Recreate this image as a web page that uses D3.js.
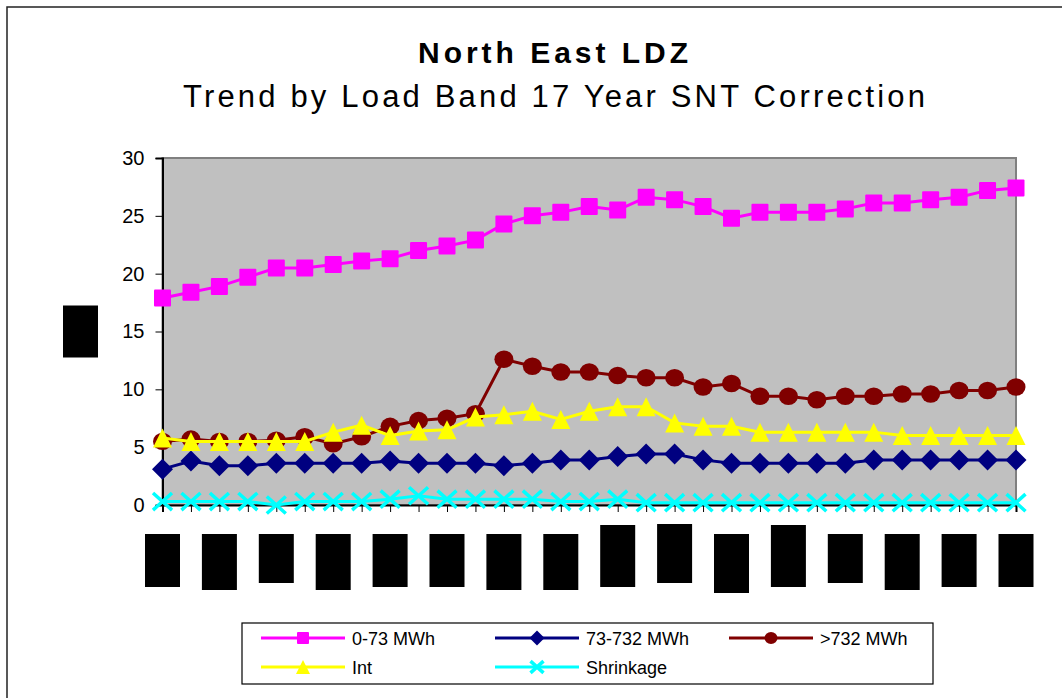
<!DOCTYPE html>
<html>
<head>
<meta charset="utf-8">
<script src="https://cdn.jsdelivr.net/npm/d3@7"></script>
<style>
  body { margin: 0; background: #fff; }
  svg { display: block; font-family: "Liberation Sans", Arial, sans-serif; }
</style>
</head>
<body>
<div id="chart"></div>
<script>
// periods along the x axis (labels are blacked out in the source)
var periods = d3.range(1, 32);
var yTicks = [0, 5, 10, 15, 20, 25, 30];

var band0 = [17.9, 18.4, 18.9, 19.7, 20.5, 20.5, 20.8, 21.1, 21.3, 22.0, 22.4, 22.9, 24.3, 25.0, 25.3, 25.8,
             25.5, 26.6, 26.4, 25.8, 24.8, 25.3, 25.3, 25.3, 25.6, 26.1, 26.1, 26.4, 26.6, 27.2, 27.4];
var band1 = [3.1, 3.8, 3.4, 3.4, 3.6, 3.6, 3.6, 3.6, 3.8, 3.6, 3.6, 3.6, 3.4, 3.6, 3.9, 3.9,
             4.2, 4.4, 4.4, 3.9, 3.6, 3.6, 3.6, 3.6, 3.6, 3.9, 3.9, 3.9, 3.9, 3.9, 3.9];
var band2 = [5.5, 5.7, 5.5, 5.5, 5.6, 5.9, 5.3, 5.9, 6.8, 7.3, 7.5, 7.9, 12.6, 12.0, 11.5, 11.5,
             11.2, 11.0, 11.0, 10.2, 10.5, 9.4, 9.4, 9.1, 9.4, 9.4, 9.6, 9.6, 9.9, 9.9, 10.2];
var bandInt = [5.8, 5.5, 5.5, 5.5, 5.5, 5.5, 6.3, 6.9, 6.0, 6.4, 6.5, 7.6, 7.8, 8.1, 7.4, 8.1,
               8.5, 8.5, 7.1, 6.8, 6.8, 6.3, 6.3, 6.3, 6.3, 6.3, 6.0, 6.0, 6.0, 6.0, 6.0];
var shrinkage = [0.3, 0.3, 0.3, 0.3, 0.0, 0.3, 0.3, 0.3, 0.5, 0.8, 0.5, 0.5, 0.5, 0.5, 0.3, 0.3,
                 0.5, 0.2, 0.2, 0.2, 0.2, 0.2, 0.2, 0.2, 0.2, 0.2, 0.2, 0.2, 0.2, 0.2, 0.2];

var seriesNames = ["0-73 MWh", "73-732 MWh", ">732 MWh", "Int", "Shrinkage"];
var seriesValues = [band0, band1, band2, bandInt, shrinkage];
var seriesColors = ["#ff00ff", "#000080", "#800000", "#ffff00", "#00ffff"];
var seriesMarkers = ["square", "diamond", "circle", "triangle", "cross"];
// marker size in plot / legend
var markerSize = {square: [17, 12], diamond: [21, 15], circle: [19, 13], triangle: [19, 14], cross: [19, 13]};

var W = 1062, H = 698;
var svg = d3.select("#chart").append("svg").attr("width", W).attr("height", H);

// chart area border
svg.append("rect").attr("x", 7).attr("y", 7).attr("width", W).attr("height", H)
   .attr("fill", "#fff").attr("stroke", "#222").attr("stroke-width", 1.5);

// titles
svg.append("text").attr("x", 553).attr("y", 63).attr("text-anchor", "middle")
   .attr("font-size", 30).attr("font-weight", "bold")
   .attr("textLength", 270).attr("lengthAdjust", "spacing")
   .text("North East LDZ");
svg.append("text").attr("x", 554).attr("y", 107).attr("text-anchor", "middle")
   .attr("font-size", 31)
   .attr("textLength", 742).attr("lengthAdjust", "spacing")
   .text("Trend by Load Band 17 Year SNT Correction");

var plotL = 162.5, plotR = 1016, plotT = 158, plotB = 505;
var x = d3.scalePoint().domain(periods).range([plotL, plotR]);
var y = d3.scaleLinear().domain([0, 30]).range([plotB, plotT]);

// plot area
svg.append("rect").attr("x", plotL).attr("y", plotT)
   .attr("width", plotR - plotL).attr("height", plotB - plotT)
   .attr("fill", "#c0c0c0").attr("stroke", "#808080").attr("stroke-width", 2);

// y axis
var yAxis = svg.append("g").attr("transform", "translate(" + plotL + ",0)")
   .call(d3.axisLeft(y).tickValues(yTicks).tickSize(7).tickPadding(11));
yAxis.select(".domain").attr("stroke", "#000").attr("stroke-width", 2);
yAxis.selectAll("text").attr("font-size", 20).attr("fill", "#000")
   .attr("font-family", "'Liberation Sans', Arial, sans-serif");

// x axis (ticks only, labels are redacted)
var xAxis = svg.append("g").attr("transform", "translate(0," + plotB + ")")
   .call(d3.axisBottom(x).tickSize(7).tickFormat(""));
xAxis.select(".domain").attr("stroke", "#000").attr("stroke-width", 2);

// black redaction boxes over every other period label
var maskTop = [29, 29, 29, 29, 29, 29, 29, 29, 20, 19, 29, 20, 29, 29, 29, 29];
var maskBot = [82, 85, 78, 85, 82, 82, 85, 85, 82, 78, 88, 82, 78, 85, 82, 82];
var labelled = periods.filter(function(p, i) { return i % 2 === 0; });
svg.append("g").selectAll("rect").data(labelled).join("rect")
   .attr("x", function(p) { return x(p) - 17.5; })
   .attr("y", function(p, i) { return plotB + maskTop[i]; })
   .attr("width", 35)
   .attr("height", function(p, i) { return maskBot[i] - maskTop[i]; })
   .attr("fill", "#000");

// y axis title is also redacted
svg.append("rect").attr("x", 63).attr("y", (plotT + plotB) / 2 - 26)
   .attr("width", 35).attr("height", 52).attr("fill", "#000");

function drawMarker(g, type, color, s) {
  var h = s / 2;
  if (type === "square") {
    g.append("rect").attr("x", -h).attr("y", -h).attr("width", s).attr("height", s)
     .attr("rx", 1).attr("fill", color);
  } else if (type === "diamond") {
    g.append("path").attr("d", "M0," + (-h) + "L" + h + ",0L0," + h + "L" + (-h) + ",0Z").attr("fill", color);
  } else if (type === "circle") {
    g.append("ellipse").attr("rx", h).attr("ry", h * 0.92).attr("fill", color);
  } else if (type === "triangle") {
    g.append("path").attr("d", "M0," + (-h) + "L" + h + "," + h + "L" + (-h) + "," + h + "Z")
     .attr("fill", color);
  } else if (type === "cross") {
    var v = h * 0.9;
    g.append("path").attr("d", "M" + (-h) + "," + (-v) + "L" + h + "," + v + "M" + h + "," + (-v) + "L" + (-h) + "," + v)
     .attr("stroke", color).attr("stroke-width", 3.5).attr("fill", "none");
  }
}

var line = d3.line().x(function(d, i) { return x(periods[i]); }).y(function(d) { return y(d); });

seriesValues.forEach(function(vals, k) {
  var g = svg.append("g");
  g.append("path").datum(vals).attr("d", line)
   .attr("fill", "none").attr("stroke", seriesColors[k]).attr("stroke-width", 3);
  vals.forEach(function(v, i) {
    var m = g.append("g").attr("transform", "translate(" + x(periods[i]) + "," + y(v) + ")");
    drawMarker(m, seriesMarkers[k], seriesColors[k], markerSize[seriesMarkers[k]][0]);
  });
});

// legend
var legend = svg.append("g");
legend.append("rect").attr("x", 242).attr("y", 623).attr("width", 691).attr("height", 61)
   .attr("fill", "#fff").attr("stroke", "#000").attr("stroke-width", 1.2);
var colX = [261, 495, 729];
seriesNames.forEach(function(name, k) {
  var lx = colX[k % 3], ly = k < 3 ? 638 : 667;
  var e = legend.append("g").attr("transform", "translate(" + lx + "," + ly + ")");
  e.append("line").attr("x1", 0).attr("x2", 84).attr("stroke", seriesColors[k]).attr("stroke-width", 3);
  var m = e.append("g").attr("transform", "translate(42,0)");
  drawMarker(m, seriesMarkers[k], seriesColors[k], markerSize[seriesMarkers[k]][1]);
  e.append("text").attr("x", 91).attr("y", 6.5).attr("font-size", 18).text(name);
});
</script>
</body>
</html>
